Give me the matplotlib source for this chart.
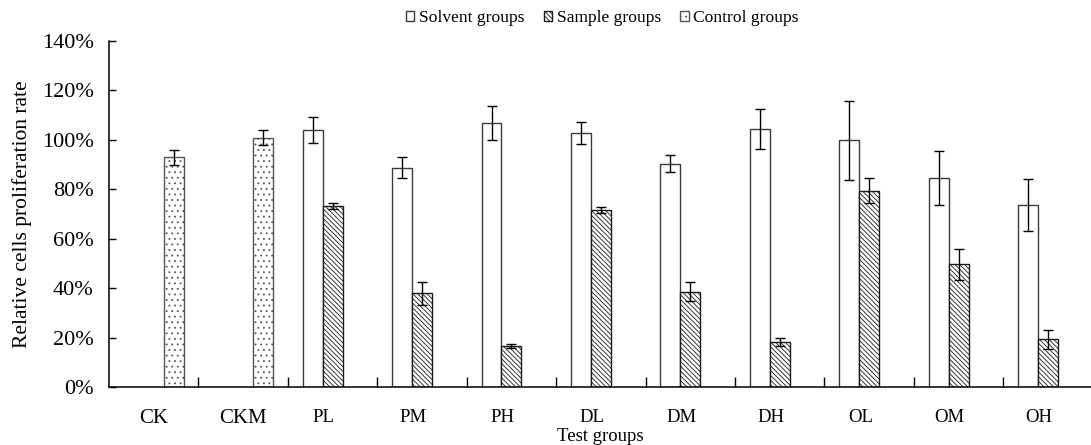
import numpy as np
import matplotlib
matplotlib.use("Agg")
import matplotlib.pyplot as plt

plt.rcParams['font.family'] = ['Liberation Serif', 'DejaVu Serif']
plt.rcParams['hatch.linewidth'] = 0.6

categories = ["CK", "CKM", "PL", "PM", "PH", "DL", "DM", "DH", "OL", "OM", "OH"]
solvent = [np.nan, np.nan, 104.0, 88.7, 106.7, 102.9, 90.4, 104.4, 99.9, 84.6, 73.7]
solvent_err = [np.nan, np.nan, 5.4, 4.3, 6.9, 4.5, 3.6, 8.0, 16.0, 10.8, 10.5]
sample = [np.nan, np.nan, 73.2, 37.9, 16.7, 71.6, 38.6, 18.3, 79.5, 49.6, 19.3]
sample_err = [np.nan, np.nan, 1.3, 4.7, 0.8, 1.3, 3.8, 1.6, 5.0, 6.2, 3.8]
control = [93.0, 100.8, np.nan, np.nan, np.nan, np.nan, np.nan, np.nan, np.nan, np.nan, np.nan]
control_err = [3.0, 3.0, np.nan, np.nan, np.nan, np.nan, np.nan, np.nan, np.nan, np.nan, np.nan]
yticks = [0, 20, 40, 60, 80, 100, 120, 140]
series_names = ["Solvent groups", "Sample groups", "Control groups"]

fig = plt.figure(figsize=(10.91, 4.45), dpi=100)
ax = fig.add_axes([0.0999, 0.1303, 0.9001, 0.7776])

x = np.arange(len(categories))
w = 0.223
ekw = dict(ecolor='black', elinewidth=1.0, capsize=3.5, capthick=1.0)

ax.bar(x - w, solvent, w, yerr=solvent_err, color='white', edgecolor='#3a3a3a',
       linewidth=1.0, label=series_names[0], error_kw=ekw)
ax.bar(x, sample, w, yerr=sample_err, color='white', edgecolor='#1a1a1a',
       linewidth=1.0, hatch='\\' * 7, label=series_names[1], error_kw=ekw)
ax.bar(x + w, control, w, yerr=control_err, color='white', edgecolor='#555555',
       linewidth=1.0, hatch='...', label=series_names[2], error_kw=ekw)

ax.set_xlim(-0.5, 10.48)
ax.set_ylim(0, 140)
ax.set_yticks(yticks)
ax.set_yticklabels([f"{v}%" for v in yticks], fontsize=16)
ax.tick_params(axis='y', direction='in', length=5, width=1, pad=11)

# label positions: the sample-group labels sit slightly left of centre
label_shift = np.where(x >= 2, 0.1, 0.0)
ax.set_xticks(x - label_shift)
ax.set_xticklabels(categories)
for i, lab in enumerate(ax.get_xticklabels()):
    lab.set_fontsize(15 if i < 2 else 13.5)
ax.tick_params(axis='x', which='major', length=0, pad=16)
ax.set_xticks(np.arange(len(categories) - 1) + 0.5, minor=True)
ax.tick_params(axis='x', which='minor', direction='in', length=7, width=1)

for s in ['top', 'right']:
    ax.spines[s].set_visible(False)
for s in ['left', 'bottom']:
    ax.spines[s].set_linewidth(1.1)

ax.set_ylabel("Relative cells proliferation rate", fontsize=15.5, labelpad=7)
ax.set_xlabel("Test groups", fontsize=13.5, labelpad=0)

leg = fig.legend(loc='center', bbox_to_anchor=(0.552, 0.96), ncol=3, frameon=False,
                 fontsize=12.6, handlelength=0.5, handleheight=0.5,
                 handletextpad=0.25, columnspacing=1.1)

fig.savefig("out.png", dpi=100)
